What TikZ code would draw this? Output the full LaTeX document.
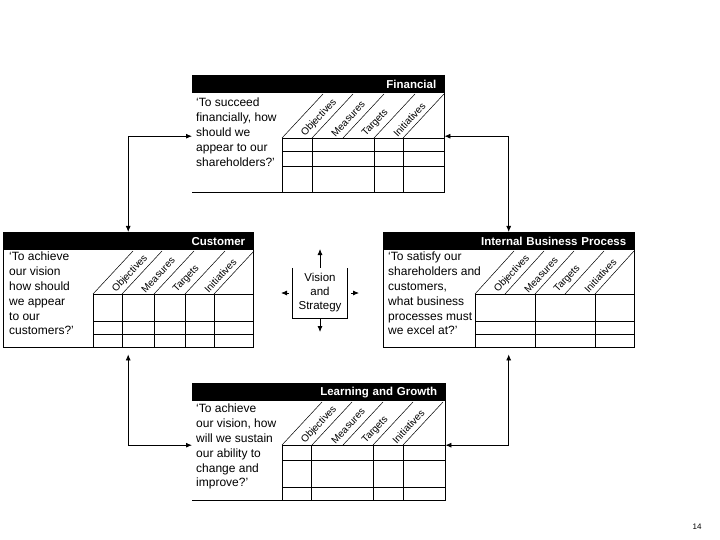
\documentclass[tikz,border=0pt]{standalone}
\usepackage{fontspec}
\setmainfont{Liberation Sans}
\usetikzlibrary{arrows.meta,positioning,calc}

\begin{document}
\begin{tikzpicture}[x=1pt, y=-1pt,
  >={Latex[length=6pt,width=5pt]},
  panel/.style={inner sep=0pt, anchor=north west},
  hdr/.style={fill=black, text=white, font=\bfseries\fontsize{11.5}{13}\selectfont, inner xsep=8pt, inner ysep=0pt, minimum height=18pt, align=right, anchor=north west},
  quest/.style={font=\fontsize{12}{14.8}\selectfont, align=left, inner sep=0pt, anchor=north west},
  colhead/.style={font=\fontsize{10}{11}\selectfont, rotate=47, anchor=west, inner sep=0pt},
  vis/.style={font=\fontsize{11.5}{14}\selectfont, align=center, inner sep=0pt, minimum width=54pt, minimum height=50pt},
  rule/.style={line width=0.8pt},
  diag/.style={line width=0.5pt},
  link/.style={line width=0.8pt, <->},
  stub/.style={line width=0.8pt, ->}
]
\useasboundingbox (0,0) rectangle (720,540);

% Financial
\node[panel, minimum width=252pt, minimum height=117pt] (fin) at (192,75) {};
\node[hdr, text width=236pt] (finH) at (fin.north west) {Financial};
\node[quest] (finQ) at (196,98) {‘To succeed\\financially, how\\should we\\appear to our\\shareholders?’};
\draw[rule] (fin.north east) -- (fin.south east) -- (fin.south west);
\foreach \x in {282,312,374,403} \draw[rule] (\x,138) -- (\x,192);
\foreach \y in {138,151,166} \draw[rule] (282,\y) -- (444,\y);
\foreach \b in {282,312,343,374,403} \draw[diag] (\b,138) -- ++(41,-44);
\foreach \b/\t [count=\i] in {282/Objectives,312/Measures,343/Targets,374/Initiatives}
  \node[colhead] (finC\i) at (\b+21,135) {\t};

% Customer
\node[panel, minimum width=250pt, minimum height=115pt] (cus) at (3,232) {};
\node[hdr, text width=234pt] (cusH) at (cus.north west) {Customer};
\node[quest] (cusQ) at (9,252) {‘To achieve\\our vision\\how should\\we appear\\to our\\customers?’};
\draw[rule] (cus.north west) rectangle (cus.south east);
\foreach \x in {93,122,154,185,214} \draw[rule] (\x,294) -- (\x,347);
\foreach \y in {294,321,334} \draw[rule] (93,\y) -- (253,\y);
\foreach \b in {93,122,154,185,214} \draw[diag] (\b,294) -- ++(40,-43);
\foreach \b/\t [count=\i] in {93/Objectives,122/Measures,154/Targets,185/Initiatives}
  \node[colhead] (cusC\i) at (\b+21,291) {\t};

% Internal Business Process
\node[panel, minimum width=251pt, minimum height=115pt] (ibp) at (383,232) {};
\node[hdr, text width=235pt] (ibpH) at (ibp.north west) {Internal Business Process};
\node[quest] (ibpQ) at (388,252) {‘To satisfy our\\shareholders and\\customers,\\what business\\processes must\\we excel at?’};
\draw[rule] (ibp.north west) rectangle (ibp.south east);
\foreach \x in {475,535,595} \draw[rule] (\x,294) -- (\x,347);
\foreach \y in {294,321,334} \draw[rule] (475,\y) -- (634,\y);
\foreach \b in {475,505,535,565,595} \draw[diag] (\b,294) -- ++(39,-43);
\foreach \b/\t [count=\i] in {475/Objectives,505/Measures,535/Targets,565/Initiatives}
  \node[colhead] (ibpC\i) at (\b+21,291) {\t};

% Learning and Growth
\node[panel, minimum width=253pt, minimum height=117pt] (lrn) at (192,383) {};
\node[hdr, text width=237pt] (lrnH) at (lrn.north west) {Learning and Growth};
\node[quest] (lrnQ) at (196,404) {‘To achieve\\our vision, how\\will we sustain\\our ability to\\change and\\improve?’};
\draw[rule] (lrn.north east) -- (lrn.south east) -- (lrn.south west);
\foreach \x in {282,311,373,403} \draw[rule] (\x,445) -- (\x,500);
\foreach \y in {445,460,487} \draw[rule] (282,\y) -- (445,\y);
\foreach \b in {282,312,343,373,403} \draw[diag] (\b,445) -- ++(40,-43);
\foreach \b/\t [count=\i] in {282/Objectives,312/Measures,343/Targets,373/Initiatives}
  \node[colhead] (lrnC\i) at (\b+21,442) {\t};

% Vision and Strategy
\node[vis] (vision) at (320,293) {Vision\\and\\Strategy};
\draw[rule] (vision.north west) -- (vision.south west) -- (vision.south east) -- (vision.north east);
\coordinate (visUp) at (320,249);
\coordinate (visDn) at (320,332);
\coordinate (visL) at (281,293);
\coordinate (visR) at (359,293);
\draw[stub] (vision.north) -- (visUp);
\draw[stub] (vision.south) -- (visDn);
\draw[stub] ([xshift=-4pt]vision.west) -- (visL);
\draw[stub] ([xshift=4pt]vision.east) -- (visR);

% links between perspectives
\draw[link] ([yshift=-2.5pt]fin.west) -| (cus.north);
\draw[link] ([yshift=-2.5pt]fin.east) -| (ibp.north);
\draw[link, shorten >=7pt] ([yshift=-3.5pt]lrn.west) -| (cus.south);
\draw[link, shorten >=7pt] ([yshift=-3.5pt]lrn.east) -| (ibp.south);

\node[font=\fontsize{8}{9}\selectfont] (page) at (697,527) {14};
\end{tikzpicture}
\end{document}
